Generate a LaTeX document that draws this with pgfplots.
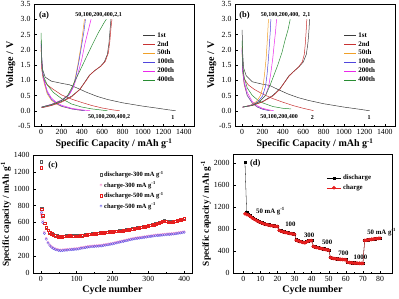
\documentclass[border=0pt]{standalone}
\usepackage{fontspec}
\setmainfont{Liberation Serif}
\usepackage{pgfplots}
\pgfplotsset{compat=1.18}
\definecolor{cA}{RGB}{60,60,60}
\definecolor{cB}{RGB}{200,50,50}
\definecolor{cC}{RGB}{240,160,40}
\definecolor{cD}{RGB}{80,70,220}
\definecolor{cE}{RGB}{235,40,235}
\definecolor{cF}{RGB}{40,140,50}
\definecolor{dRed}{RGB}{230,30,30}
\definecolor{dPink}{RGB}{240,130,200}
\definecolor{dGray}{RGB}{90,90,90}
\definecolor{dBlue}{RGB}{90,80,230}
\pgfplotsset{
  myax/.style={
    scale only axis, anchor=south west,
    tick align=inside, xtick pos=left, ytick pos=left,
    major tick length=2.5pt, minor tick length=1.4pt,
    minor x tick num=1, minor y tick num=1,
    tick style={black, line width=0.4pt},
    axis line style={line width=0.5pt},
    ticklabel style={font=\fontsize{7.8}{8.5}\selectfont},
    label style={font=\bfseries\fontsize{10}{11}\selectfont},
    /pgf/number format/assume math mode=true,
    /pgf/number format/1000 sep={},
    clip=false,
  },
  vax/.style={
    myax, width=160pt, height=122pt,
    xmin=-70, xmax=1500, ymin=-0.5, ymax=3.5,
    xtick={0,200,400,600,800,1000,1200,1400},
    ytick={-0.5,0,0.5,1,1.5,2,2.5,3,3.5},
    yticklabel style={/pgf/number format/.cd, fixed, fixed zerofill, precision=1},
    xlabel={Specific Capacity / mAh g\textsuperscript{-1}},
    ylabel={Voltage / V},
    ylabel shift=-4pt, xlabel shift=-3pt,
    every axis plot/.append style={line width=0.5pt},
    legend style={draw=none, fill=none, at={(rel axis cs:0.66,0.8)}, anchor=north west,
      font=\bfseries\fontsize{7}{7.5}\selectfont, row sep=-1.5pt},
    legend cell align=left,
    legend image code/.code={\draw[##1] (0pt,0pt) -- (12pt,0pt);},
  },
  dleg/.style={
    legend image code/.code={\draw[##1, mark repeat=2, mark phase=2] plot coordinates {(0pt,0pt) (7pt,0pt) (14pt,0pt)};},
  },
}
\begin{document}
\begin{tikzpicture}
\path[use as bounding box] (0,0) rectangle (399pt,298pt);
% ---------------- (a)
\begin{axis}[vax, at={(34pt,172pt)}]
\addplot[cA] coordinates {(0,2.3) (5,1.8) (15,1.35) (40,1.1) (100,0.97) (200,0.9) (280,0.85) (350,0.75) (450,0.6) (550,0.47) (650,0.37) (800,0.26) (1000,0.15) (1150,0.08) (1250,0.03) (1320,0.0)};
\addlegendentry{1st}
\addplot[cB] coordinates {(0,2.1) (5,1.4) (20,1.05) (60,0.85) (120,0.7) (200,0.52) (300,0.38) (400,0.27) (500,0.17) (600,0.09) (700,0.03) (770,0.0)};
\addlegendentry{2nd}
\addplot[cC] coordinates {(0,2.0) (10,1.3) (30,0.9) (60,0.55) (100,0.35) (150,0.22) (200,0.14) (300,0.06) (400,0.01) (420,0)};
\addlegendentry{50th}
\addplot[cD] coordinates {(0,2.2) (10,1.4) (30,1.0) (60,0.6) (100,0.38) (150,0.24) (200,0.15) (300,0.06) (380,0.02) (430,0)};
\addlegendentry{100th}
\addplot[cE] coordinates {(0,2.15) (10,1.3) (30,0.95) (60,0.65) (100,0.42) (150,0.27) (200,0.18) (300,0.08) (400,0.03) (480,0)};
\addlegendentry{200th}
\addplot[cF] coordinates {(0,2.55) (5,1.6) (20,1.15) (60,0.85) (120,0.6) (200,0.4) (300,0.22) (400,0.12) (500,0.06) (600,0.02) (650,0)};
\addlegendentry{400th}
\addplot[cA, forget plot] coordinates {(5,0.1) (50,0.14) (100,0.18) (200,0.3) (300,0.48) (380,0.7) (430,0.95) (470,1.15) (520,1.3) (580,1.45) (620,1.6) (650,1.85) (665,2.2) (675,2.6) (685,3.0)};
\addplot[cB, forget plot] coordinates {(5,0.1) (50,0.13) (100,0.17) (200,0.28) (300,0.46) (380,0.7) (440,0.98) (480,1.18) (530,1.33) (590,1.47) (630,1.62) (660,1.9) (675,2.3) (685,2.7) (695,3.0)};
\addplot[cC, forget plot] coordinates {(5,0.12) (100,0.2) (200,0.34) (260,0.48) (300,0.7) (330,1.0) (360,1.5) (390,2.1) (410,2.6) (425,3.0)};
\addplot[cD, forget plot] coordinates {(5,0.12) (100,0.2) (200,0.34) (270,0.5) (310,0.75) (340,1.1) (370,1.6) (400,2.2) (420,2.6) (435,3.0)};
\addplot[cE, forget plot] coordinates {(5,0.12) (100,0.21) (200,0.35) (280,0.55) (320,0.8) (360,1.2) (400,1.7) (430,2.2) (460,2.6) (490,3.0)};
\addplot[cF, forget plot] coordinates {(5,0.12) (100,0.2) (200,0.33) (260,0.5) (300,0.75) (350,1.1) (400,1.45) (450,1.8) (500,2.15) (560,2.55) (620,2.9) (640,3.0)};
\node[font=\bfseries\fontsize{8.5}{9}\selectfont] at (rel axis cs:0.0625,0.905) {(a)};
\node[font=\bfseries\fontsize{6}{6.5}\selectfont] at (axis cs:563,3.15) {50,100,200,400,2,1};
\node[font=\bfseries\fontsize{6}{6.5}\selectfont] at (axis cs:666,-0.22) {50,100,200,400,2};
\node[font=\bfseries\fontsize{6}{6.5}\selectfont] at (axis cs:1293,-0.22) {1};
\end{axis}
% ---------------- (b)
\begin{axis}[vax, at={(235pt,172pt)}]
\addplot[cA] coordinates {(0,2.65) (5,1.9) (15,1.4) (40,1.15) (100,0.95) (200,0.87) (270,0.83) (350,0.7) (450,0.55) (550,0.43) (650,0.34) (800,0.23) (1000,0.12) (1150,0.05) (1250,0)};
\addlegendentry{1st}
\addplot[cB] coordinates {(0,2.1) (5,1.4) (20,1.05) (60,0.85) (120,0.7) (200,0.55) (300,0.4) (400,0.28) (500,0.17) (600,0.08) (680,0.02) (700,0)};
\addlegendentry{2nd}
\addplot[cC] coordinates {(0,1.9) (5,1.3) (20,0.85) (50,0.5) (100,0.25) (150,0.12) (200,0.06) (250,0.02) (280,0)};
\addlegendentry{50th}
\addplot[cD] coordinates {(0,2.0) (5,1.3) (20,0.9) (50,0.5) (100,0.25) (150,0.12) (200,0.05) (240,0.02) (270,0)};
\addlegendentry{100th}
\addplot[cE] coordinates {(0,2.05) (5,1.35) (20,0.95) (50,0.6) (100,0.3) (150,0.16) (200,0.08) (260,0.03) (310,0)};
\addlegendentry{200th}
\addplot[cF] coordinates {(0,2.3) (5,1.5) (20,1.1) (50,0.75) (100,0.5) (150,0.36) (200,0.26) (300,0.14) (400,0.08) (480,0.06)};
\addlegendentry{400th}
\addplot[cA, forget plot] coordinates {(5,0.12) (100,0.18) (200,0.3) (300,0.5) (370,0.72) (420,0.95) (460,1.15) (510,1.3) (560,1.45) (600,1.6) (630,1.85) (645,2.2) (655,2.6) (662,3.0)};
\addplot[cB, forget plot] coordinates {(5,0.12) (100,0.17) (200,0.29) (300,0.48) (370,0.7) (420,0.95) (460,1.13) (500,1.27) (550,1.42) (590,1.6) (610,1.85) (620,2.2) (628,2.6) (635,3.0)};
\addplot[cC, forget plot] coordinates {(5,0.12) (80,0.18) (140,0.3) (180,0.5) (205,0.8) (220,1.2) (235,1.7) (245,2.2) (252,2.6) (258,3.0)};
\addplot[cD, forget plot] coordinates {(5,0.12) (80,0.17) (150,0.28) (200,0.48) (230,0.8) (245,1.2) (258,1.7) (268,2.2) (276,2.6) (282,3.0)};
\addplot[cE, forget plot] coordinates {(5,0.12) (90,0.18) (170,0.3) (230,0.5) (260,0.8) (280,1.2) (300,1.7) (315,2.2) (328,2.6) (338,3.0)};
\addplot[cF, forget plot] coordinates {(5,0.12) (100,0.18) (170,0.3) (230,0.5) (270,0.8) (310,1.15) (350,1.5) (390,1.9) (420,2.3) (450,2.65) (472,3.0)};
\node[font=\bfseries\fontsize{8.5}{9}\selectfont] at (rel axis cs:0.06,0.905) {(b)};
\node[font=\bfseries\fontsize{6}{6.5}\selectfont] at (axis cs:427,3.15) {50,100,200,400,\ \ 2,1};
\node[font=\bfseries\fontsize{6}{6.5}\selectfont] at (axis cs:363,-0.22) {50,100,200,400};
\node[font=\bfseries\fontsize{6}{6.5}\selectfont] at (axis cs:690,-0.22) {2};
\node[font=\bfseries\fontsize{6}{6.5}\selectfont] at (axis cs:1247,-0.22) {1};
\end{axis}
% ---------------- (c)
\begin{axis}[myax, at={(33pt,25pt)}, width=159pt, height=118pt,
  xmin=-22, xmax=422, ymin=0, ymax=1400,
  xtick={0,100,200,300,400}, ytick={0,200,400,600,800,1000,1200,1400},
  xlabel={Cycle number}, ylabel={Specific capacity / mAh g\textsuperscript{-1}},
  ylabel style={font=\bfseries\fontsize{9.2}{10}\selectfont},
  ylabel shift=-4pt, xlabel shift=-3pt,
  legend style={draw=none, fill=none, at={(rel axis cs:0.4,0.9)}, anchor=north west,
    font=\bfseries\fontsize{6.5}{7}\selectfont, row sep=-0.5pt},
  legend cell align=left,
]
\addplot[only marks, mark=square, mark size=1.2pt, dGray, line width=0.3pt] coordinates {
(1,1320) (2,763) (5,683) (10,593) (15,543) (20,508) (25,483) (30,468) (35,455) (40,448) (45,441) (50,435) (55,433) (60,435) (65,438) (70,441) (75,443) (80,445) (85,443) (90,441) (95,440) (100,441) (105,443) (110,445) (115,448) (120,451) (125,455) (130,459) (135,461) (140,463) (145,465) (150,468) (155,471) (160,475) (165,478) (170,481) (175,483) (180,486) (185,488) (190,490) (195,493) (200,495) (205,497) (210,498) (215,500) (220,501) (225,503) (230,506) (235,509) (240,513) (245,517) (250,521) (255,525) (260,529) (265,533) (270,537) (275,541) (280,545) (285,549) (290,553) (295,558) (300,563) (305,568) (310,573) (315,579) (320,585) (325,591) (330,598) (335,606) (340,615) (345,621) (350,615) (355,608) (360,605) (365,608) (370,613) (375,618) (380,623) (385,629) (390,635) (395,641) (400,648)};
\addlegendentry{discharge-300 mA g\textsuperscript{-1}}
\addplot[only marks, mark=o, mark size=1.2pt, dPink, line width=0.3pt] coordinates {
(1,700) (2,690) (3,660) (5,620) (10,485) (15,412) (20,365) (25,335) (30,314) (35,298) (40,288) (45,280) (50,276) (55,273) (60,274) (65,276) (70,278) (75,280) (80,283) (85,285) (90,287) (95,289) (100,291) (105,294) (110,298) (115,302) (120,306) (125,310) (130,314) (135,317) (140,319) (145,321) (150,323) (155,325) (160,326) (165,328) (170,330) (175,334) (180,338) (185,342) (190,346) (195,350) (200,354) (205,358) (210,363) (215,368) (220,373) (225,378) (230,383) (235,388) (240,393) (245,398) (250,403) (255,408) (260,412) (265,416) (270,419) (275,422) (280,425) (285,428) (290,431) (295,434) (300,438) (305,441) (310,444) (315,447) (320,450) (325,452) (330,454) (335,456) (340,458) (345,460) (350,462) (355,464) (360,466) (365,468) (370,470) (375,473) (380,476) (385,480) (390,483) (395,486) (400,490)};
\addlegendentry{charge-300 mA g\textsuperscript{-1}}
\addplot[only marks, mark=square, mark size=1.2pt, dRed, line width=0.3pt] coordinates {
(1,1248) (2,760) (5,680) (10,590) (15,540) (20,505) (25,480) (30,465) (35,452) (40,445) (45,438) (50,432) (55,430) (60,432) (65,435) (70,438) (75,440) (80,442) (85,440) (90,438) (95,437) (100,438) (105,440) (110,442) (115,445) (120,448) (125,452) (130,456) (135,458) (140,460) (145,462) (150,465) (155,468) (160,472) (165,475) (170,478) (175,480) (180,483) (185,485) (190,487) (195,490) (200,492) (205,494) (210,495) (215,497) (220,498) (225,500) (230,503) (235,506) (240,510) (245,514) (250,518) (255,522) (260,526) (265,530) (270,534) (275,538) (280,542) (285,546) (290,550) (295,555) (300,560) (305,565) (310,570) (315,576) (320,582) (325,588) (330,595) (335,603) (340,612) (345,618) (350,612) (355,605) (360,602) (365,605) (370,610) (375,615) (380,620) (385,626) (390,632) (395,638) (400,645)};
\addlegendentry{discharge-500 mA g\textsuperscript{-1}}
\addplot[only marks, mark=o, mark size=1.2pt, dBlue, line width=0.3pt] coordinates {
(2,720) (5,600) (10,470) (15,400) (20,355) (25,325) (30,305) (35,290) (40,280) (45,272) (50,268) (55,265) (60,266) (65,268) (70,270) (75,272) (80,275) (85,277) (90,279) (95,281) (100,283) (105,286) (110,290) (115,294) (120,298) (125,302) (130,306) (135,309) (140,311) (145,313) (150,315) (155,317) (160,318) (165,320) (170,322) (175,326) (180,330) (185,334) (190,338) (195,342) (200,346) (205,350) (210,355) (215,360) (220,365) (225,370) (230,375) (235,380) (240,385) (245,390) (250,395) (255,400) (260,404) (265,408) (270,411) (275,414) (280,417) (285,420) (290,423) (295,426) (300,430) (305,433) (310,436) (315,439) (320,442) (325,444) (330,446) (335,448) (340,450) (345,452) (350,454) (355,456) (360,458) (365,460) (370,462) (375,465) (380,468) (385,472) (390,475) (395,478) (400,482)};
\addlegendentry{charge-500 mA g\textsuperscript{-1}}
\node[font=\bfseries\fontsize{8.5}{9}\selectfont] at (rel axis cs:0.126,0.91) {(c)};
\end{axis}
% ---------------- (d)
\begin{axis}[myax, dleg, at={(233pt,25pt)}, width=159pt, height=119pt,
  xmin=-6, xmax=87, ymin=0, ymax=2170,
  xtick={0,10,20,30,40,50,60,70,80}, ytick={0,400,800,1200,1600,2000},
  xlabel={Cycle number}, ylabel={Specific capacity / mAh g\textsuperscript{-1}},
  ylabel style={font=\bfseries\fontsize{9.2}{10}\selectfont},
  ylabel shift=-4pt, xlabel shift=-3pt,
  legend style={draw=none, fill=none, at={(rel axis cs:0.57,0.86)}, anchor=north west,
    font=\bfseries\fontsize{6.8}{7.3}\selectfont, row sep=-0.5pt},
  legend cell align=left,
]
\addplot[black, line width=0.3pt, mark=square*, mark size=1.1pt, mark options={solid}] coordinates {
(1,2020) (2,1100) (3,1070) (4,1045) (5,1020) (6,1000) (7,980) (8,962) (9,946) (10,932) (11,918) (12,906) (13,896) (14,888) (15,881) (16,875) (17,869) (18,864) (19,859) (20,855) (21,785) (22,772) (23,762) (24,753) (25,745) (26,738) (27,731) (28,725) (29,719) (30,714) (31,608) (32,595) (33,584) (34,574) (35,565) (36,558) (37,575) (38,590) (39,597) (40,598) (41,492) (42,480) (43,472) (44,465) (45,458) (46,451) (47,444) (48,437) (49,430) (50,424) (51,288) (52,278) (53,272) (54,267) (55,263) (56,259) (57,256) (58,253) (59,250) (60,248) (61,202) (62,196) (63,192) (64,189) (65,187) (66,185) (67,183) (68,182) (69,181) (70,180) (71,598) (72,604) (73,609) (74,614) (75,619) (76,624) (77,628) (78,632) (79,636) (80,640)};
\addlegendentry{discharge}
\addplot[dRed, line width=0.3pt, mark=*, mark size=1.7pt] coordinates {
(1,1080) (2,1068) (3,1055) (4,1035) (5,1010) (6,990) (7,971) (8,953) (9,937) (10,923) (11,910) (12,898) (13,888) (14,880) (15,873) (16,867) (17,861) (18,856) (19,851) (20,847) (21,777) (22,764) (23,754) (24,745) (25,737) (26,730) (27,723) (28,717) (29,711) (30,706) (31,600) (32,587) (33,576) (34,566) (35,557) (36,551) (37,567) (38,582) (39,589) (40,590) (41,484) (42,472) (43,464) (44,457) (45,450) (46,443) (47,436) (48,429) (49,422) (50,416) (51,281) (52,271) (53,265) (54,260) (55,256) (56,252) (57,249) (58,246) (59,243) (60,241) (61,196) (62,190) (63,186) (64,183) (65,181) (66,179) (67,177) (68,176) (69,175) (70,174) (71,592) (72,598) (73,603) (74,608) (75,613) (76,618) (77,622) (78,626) (79,630) (80,634)};
\addlegendentry{charge}
\node[font=\bfseries\fontsize{8.5}{9}\selectfont] at (rel axis cs:0.14,0.92) {(d)};
\node[font=\bfseries\fontsize{6.8}{7.3}\selectfont, anchor=west] at (axis cs:5.5,1120) {50 mA g\textsuperscript{-1}};
\node[font=\bfseries\fontsize{6.8}{7.3}\selectfont, anchor=west] at (axis cs:22.5,890) {100};
\node[font=\bfseries\fontsize{6.8}{7.3}\selectfont, anchor=west] at (axis cs:33.5,695) {300};
\node[font=\bfseries\fontsize{6.8}{7.3}\selectfont, anchor=west] at (axis cs:44,555) {500};
\node[font=\bfseries\fontsize{6.8}{7.3}\selectfont, anchor=west] at (axis cs:53.5,366) {700};
\node[font=\bfseries\fontsize{6.8}{7.3}\selectfont, anchor=west] at (axis cs:62.5,293) {1000};
\node[font=\bfseries\fontsize{6.8}{7.3}\selectfont, anchor=west] at (axis cs:70.5,738) {50 mA g\textsuperscript{-1}};
\end{axis}
\end{tikzpicture}
\end{document}
